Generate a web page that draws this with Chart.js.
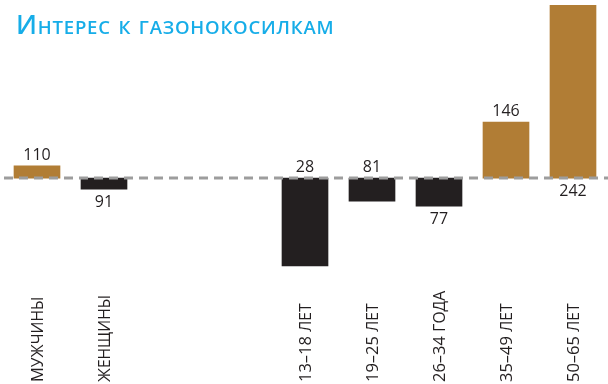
<!DOCTYPE html>
<html>
<head>
<meta charset="utf-8">
<script src="https://cdn.jsdelivr.net/npm/chart.js@4/dist/chart.umd.min.js"></script>
<style>
    html, body { margin: 0; padding: 0; background: #fff; }
    #chartBox { width: 608px; height: 384px; }
</style>
</head>
<body>
<div id="chartBox"><canvas id="mowerChart"></canvas></div>
<script>
// Index of interest in lawn mowers, 100 = average
const categories = ['Мужчины', 'Женщины', '', '', '13–18 лет', '19–25 лет', '26–34 года', '35–49 лет', '50–65 лет'];
const indexValues = [110, 91, null, null, 28, 81, 77, 146, 242];
const baseValue = 100;
const titleText = 'Интерес к газонокосилкам';

// where each value label sits: past the bar end, or across the base line
const labelSide = ['end', 'end', null, null, 'across', 'across', 'end', 'end', 'across'];

const GOLD = '#b17d35';
const DARK = '#231f20';
const FONT = '"Open Sans", "Noto Sans", sans-serif';

function barColor(value) {
    return value >= baseValue ? GOLD : DARK;
}

// draws text in small caps: capitals at full size, lowercase as smaller capitals
function drawSmallCaps(ctx, text, x, y, size, ratio, weight, spacing) {
    let cursor = x;
    for (const ch of text) {
        const isLower = ch !== ch.toUpperCase();
        const fontSize = isLower ? size * ratio : size;
        ctx.font = weight + ' ' + fontSize + 'px ' + FONT;
        const glyph = ch.toUpperCase();
        ctx.fillText(glyph, cursor, y);
        cursor += ctx.measureText(glyph).width + spacing;
    }
    return cursor - x;
}

const baseLinePlugin = {
    id: 'baseLine',
    afterDatasetsDraw(chart) {
        const ctx = chart.ctx;
        const y = chart.scales.y.getPixelForValue(baseValue);
        ctx.save();
        ctx.strokeStyle = '#9d9d9d';
        ctx.lineWidth = 3;
        ctx.setLineDash([9, 6]);
        ctx.beginPath();
        ctx.moveTo(4, y);
        ctx.lineTo(chart.width, y);
        ctx.stroke();
        ctx.restore();
    }
};

const labelsPlugin = {
    id: 'barLabels',
    afterDraw(chart) {
        const ctx = chart.ctx;
        const yScale = chart.scales.y;
        const meta = chart.getDatasetMeta(0);
        const baseY = yScale.getPixelForValue(baseValue);
        const gap = 6;
        const capHeight = 11.5;

        ctx.save();
        ctx.fillStyle = DARK;
        ctx.textAlign = 'center';
        ctx.textBaseline = 'alphabetic';
        ctx.font = '500 16px ' + FONT;

        meta.data.forEach((bar, i) => {
            const value = indexValues[i];
            if (value === null) return;
            const up = value >= baseValue;
            const endY = yScale.getPixelForValue(value);
            let y;
            if (labelSide[i] === 'end') {
                y = up ? endY - gap : endY + gap + capHeight;
            } else {
                y = up ? baseY + gap + capHeight : baseY - gap;
            }
            ctx.fillText(String(value), bar.x, y);
        });

        // category names, rotated, reading upward from the bottom edge
        ctx.textAlign = 'left';
        meta.data.forEach((bar, i) => {
            if (!categories[i]) return;
            ctx.save();
            ctx.translate(bar.x + 6, 382);
            ctx.rotate(-Math.PI / 2);
            drawSmallCaps(ctx, categories[i], 0, 0, 16.5, 0.95, 'normal', 0);
            ctx.restore();
        });

        // title, letters spread a little
        ctx.fillStyle = '#16ade8';
        drawSmallCaps(ctx, titleText, 16, 34, 26.5, 0.7, '600', 0.8);
        ctx.restore();
    }
};

const ctx = document.getElementById('mowerChart').getContext('2d');
const mowerChart = new Chart(ctx, {
    type: 'bar',
    data: {
        labels: categories,
        datasets: [{
            data: indexValues.map(v => v === null ? null : [baseValue, v]),
            backgroundColor: indexValues.map(v => barColor(v)),
            borderWidth: 0,
            barThickness: 46
        }]
    },
    options: {
        responsive: true,
        maintainAspectRatio: false,
        animation: false,
        layout: {
            padding: { top: 5, bottom: 84, left: 3.5, right: 1.5 }
        },
        plugins: {
            legend: { display: false },
            title: { display: false },
            tooltip: { enabled: false }
        },
        scales: {
            x: { display: false },
            y: { display: false, min: 0, max: 242 }
        }
    },
    plugins: [baseLinePlugin, labelsPlugin]
});
</script>
</body>
</html>
